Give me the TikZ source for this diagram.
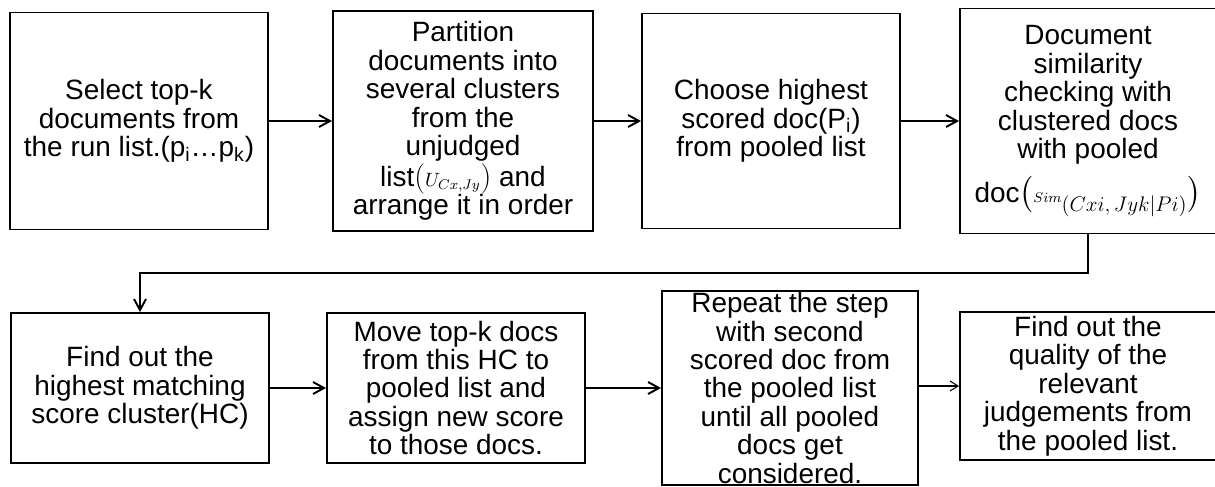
\documentclass[tikz,border=0pt]{standalone}
\usepackage{fontspec}
\usepackage{amsmath}
\setmainfont{Liberation Sans}
\usepackage{tikz}
\usetikzlibrary{calc,arrows.meta}
\tikzset{
	stage/.style={draw, line width=1.1pt, align=center, inner sep=0pt,
		font=\fontsize{15.9}{16.2}\selectfont},
	flow/.style={-{Straight Barb[length=2.2mm, width=2.4mm]}, line width=1.1pt},
	thinflow/.style={-{Straight Barb[length=1.6mm, width=2mm]}, line width=0.6pt}
}

\begin{document}
\begin{tikzpicture}[x=0.02cm, y=-0.02cm]
		%%%%% START %%%%%
		\useasboundingbox (0, 0) rectangle (1215, 487);
		
		% top row
		\node[stage, minimum width=258*0.02cm, minimum height=217*0.02cm] (select) at (139, 121)
			{Select top-k\\documents from\\the run list.(p\textsubscript{i}\ldots p\textsubscript{k})};
		\node[stage, minimum width=260*0.02cm, minimum height=220*0.02cm] (partition) at (463, 121)
			{Partition\\documents into\\several clusters\\from the\\unjudged\\list$({\scriptstyle U_{Cx,Jy}})$ and\\arrange it in order};
		\node[stage, minimum width=258*0.02cm, minimum height=215*0.02cm] (choose) at (771, 121)
			{Choose highest\\scored doc(P\textsubscript{i})\\from pooled list};
		\node[stage, minimum width=256*0.02cm, minimum height=225*0.02cm] (similar) at (1088, 121)
			{Document\\similarity\\checking with\\clustered docs\\with pooled\\[6pt]doc$\bigl(\text{\fontsize{12}{12}\selectfont${\scriptstyle Sim}_{\textstyle(Cxi,Jyk|Pi)}$}\bigr)$};
		
		% bottom row
		\node[stage, minimum width=258*0.02cm, minimum height=150*0.02cm] (highest) at (140, 388)
			{Find out the\\highest matching\\score cluster(HC)};
		\node[stage, minimum width=258*0.02cm, minimum height=150*0.02cm] (move) at (456, 388)
			{Move top-k docs\\from this HC to\\pooled list and\\assign new score\\to those docs.};
		\node[stage, minimum width=256*0.02cm, minimum height=194*0.02cm] (repeat) at (790, 388)
			{Repeat the step\\with second\\scored doc from\\the pooled list\\until all pooled\\docs get\\considered.};
		\node[stage, minimum width=256*0.02cm, minimum height=148*0.02cm] (quality) at (1088, 386)
			{Find out the\\quality of the\\relevant\\judgements from\\the pooled list.};
		
		\coordinate (turn) at (600, 273);
		
		\draw[flow] (select) -- (partition);
		\draw[flow] (partition) -- (choose);
		\draw[flow] (choose) -- (similar);
		\draw[flow] (similar.south) -- (similar.south |- turn) -| (highest.north);
		\draw[flow] (highest) -- (move);
		\draw[flow] (move) -- (repeat);
		\draw[thinflow] (repeat.east |- quality) -- (quality.west);
		
		%%%%% END %%%%%
	\end{tikzpicture}
\end{document}
